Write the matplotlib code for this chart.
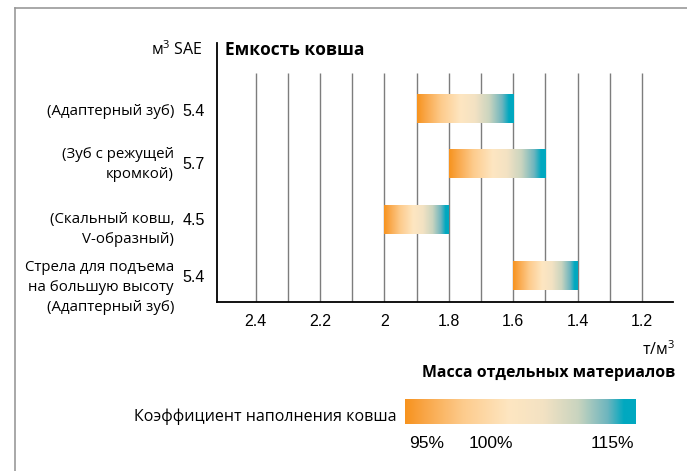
import numpy as np
import matplotlib
matplotlib.use("Agg")
import matplotlib.pyplot as plt
from matplotlib.colors import LinearSegmentedColormap
from matplotlib import transforms
from matplotlib.lines import Line2D

# ---- data ----
categories = ["(Адаптерный зуб)", "(Зуб с режущей\nкромкой)", "(Скальный ковш,\nV-образный)",
              "Стрела для подъема\nна большую высоту\n(Адаптерный зуб)"]
capacities = ["5.4", "5.7", "4.5", "5.4"]
density_hi = [1.9, 1.8, 2.0, 1.6]   # left end of bar (t/m3)
density_lo = [1.6, 1.5, 1.8, 1.4]   # right end of bar (t/m3)
grid_values = [2.4, 2.3, 2.2, 2.1, 2.0, 1.9, 1.8, 1.7, 1.6, 1.5, 1.4, 1.3, 1.2]
tick_values = [2.4, 2.2, 2.0, 1.8, 1.6, 1.4, 1.2]
tick_labels = ["2.4", "2.2", "2", "1.8", "1.6", "1.4", "1.2"]
legend_labels = ["95%", "100%", "115%"]
legend_label_pos = [0.0, 0.37, 1.0]

plt.rcParams['font.family'] = ['Open Sans', 'DejaVu Sans']
plt.rcParams['mathtext.fontset'] = 'custom'
plt.rcParams['mathtext.rm'] = 'Open Sans'

W, H = 687, 471
fig = plt.figure(figsize=(W / 100, H / 100), dpi=100)

def fx(px):
    return px / W

def fy(py):
    return 1 - py / H

cmap = LinearSegmentedColormap.from_list("fill", [
    (0.00, "#F7931E"), (0.08, "#F9A545"), (0.25, "#FDCB8C"), (0.45, "#FEE6C1"),
    (0.60, "#F3E2C3"), (0.75, "#C9D4BF"), (0.88, "#6DB5BE"), (0.95, "#00A8C0"),
    (1.00, "#00A8C0")])

ax_l, ax_r, ax_t, ax_b = 217, 673, 43, 302
ax = fig.add_axes([fx(ax_l), fy(ax_b), fx(ax_r - ax_l), (ax_b - ax_t) / H])
ax.set_xlim(2.52, 1.104)
ylim = (3.484, -1.174)
ax.set_ylim(*ylim)

grid_top = -0.635
ax.vlines(grid_values, grid_top, ylim[0], colors="#7d7d7d", lw=1.0, zorder=1)

grad = np.linspace(0, 1, 256).reshape(1, -1)
bh = 0.52
for i, (a, b) in enumerate(zip(density_hi, density_lo)):
    ax.imshow(grad, cmap=cmap, aspect="auto", extent=(a, b, i + bh / 2, i - bh / 2),
              zorder=2, interpolation="bilinear")
ax.set_xlim(2.52, 1.104)
ax.set_ylim(*ylim)

for s in ["top", "right"]:
    ax.spines[s].set_visible(False)
for s in ["left", "bottom"]:
    ax.spines[s].set_linewidth(1.3)
    ax.spines[s].set_color("black")
ax.set_yticks([])
ax.set_xticks(tick_values)
ax.set_xticklabels(tick_labels, family="Liberation Sans", fontsize=11.5)
ax.tick_params(axis="x", length=0, pad=9)

# row labels
trans = transforms.blended_transform_factory(fig.transFigure, ax.transData)
val_dy = [3, 1, 1, 2]
lab_dy = [3, 1, 10, 12]
for i, (c, v) in enumerate(zip(categories, capacities)):
    t1 = transforms.offset_copy(trans, fig=fig, y=-val_dy[i], units="dots")
    ax.text(fx(205), i, v, transform=t1, ha="right", va="center",
            family="Liberation Sans", fontsize=11.5)
    t2 = transforms.offset_copy(trans, fig=fig, y=-lab_dy[i], units="dots")
    ax.text(fx(174), i, c, transform=t2, ha="right", va="center",
            fontsize=10.8, linespacing=1.45)

fig.text(fx(203), fy(50), "м$^3$ SAE", ha="right", va="center", fontsize=11.5)
fig.text(fx(225), fy(50), "Емкость ковша", ha="left", va="center", fontsize=12.5, weight="bold")
fig.text(fx(675), fy(350), "т/м$^3$", ha="right", va="center", fontsize=11.5)
fig.text(fx(675), fy(373), "Масса отдельных материалов", ha="right", va="center",
         fontsize=11.4, weight="bold")
fig.text(fx(396), fy(417), "Коэффициент наполнения ковша", ha="right", va="center", fontsize=11.5)

# legend gradient
lg_l, lg_r, lg_t, lg_b = 405, 636, 399, 424
lax = fig.add_axes([fx(lg_l), fy(lg_b), fx(lg_r - lg_l), (lg_b - lg_t) / H])
lax.imshow(grad, cmap=cmap, aspect="auto", extent=(0, 1, 0, 1), interpolation="bilinear")
lax.set_xlim(0, 1)
lax.set_ylim(0, 1)
lax.axis("off")
lab_l, lab_r = 409, 634
for lab, p in zip(legend_labels, legend_label_pos):
    ha = "left" if p == 0 else ("right" if p == 1 else "center")
    xp = lab_l + p * (lab_r - lab_l) if p in (0, 1) else 491
    fig.text(fx(xp), fy(444), lab, ha=ha, va="center",
             family="Liberation Sans", fontsize=12.5)

# outer frame lines
fig.add_artist(Line2D([fx(15), 1], [fy(8), fy(8)], color="#999999", lw=1.2))
fig.add_artist(Line2D([fx(15), fx(15)], [fy(8), 0], color="#999999", lw=1.2))

fig.savefig("out.png", dpi=100)
